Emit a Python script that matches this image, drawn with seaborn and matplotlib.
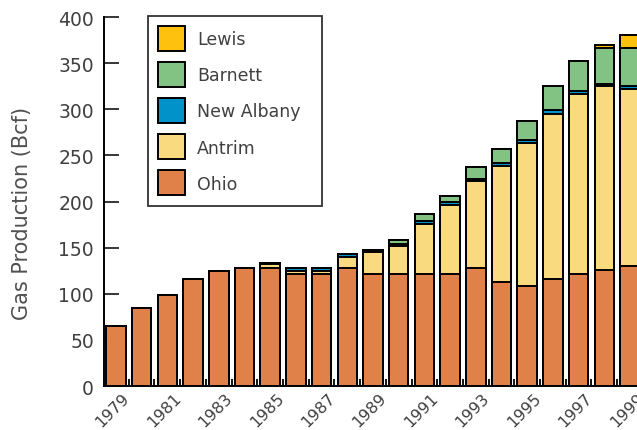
import numpy as np
import pandas as pd
import matplotlib
matplotlib.use("Agg")
import matplotlib.pyplot as plt
import matplotlib.transforms as mtransforms
import seaborn as sns
from matplotlib.patches import Patch

# Data (Bcf per year)
years = [str(y) for y in range(1979, 2000)]
ohio = [65, 85, 99, 116, 125, 128, 128, 121, 121, 128, 121, 121, 121, 121, 128, 113, 109, 116, 121, 126, 130]
antrim = [0, 0, 0, 0, 0, 0, 4, 4, 4, 12, 24, 31, 55, 75, 94, 126, 155, 179, 196, 199, 192]
new_albany = [0, 0, 0, 0, 0, 0, 1, 3, 3, 3, 3, 2, 3, 3, 3, 3, 3, 4, 3, 3, 3]
barnett = [0, 0, 0, 0, 0, 0, 0, 0, 0, 0, 0, 4, 8, 7, 13, 15, 20, 26, 32, 38, 42]
lewis = [0, 0, 0, 0, 0, 0, 0, 0, 0, 0, 0, 0, 0, 0, 0, 0, 0, 0, 0, 4, 14]

series_names = ["Ohio", "Antrim", "New Albany", "Barnett", "Lewis"]
series_colors = {"Ohio": "#e0814a", "Antrim": "#f9da7e", "New Albany": "#0092c8",
                 "Barnett": "#82c282", "Lewis": "#fec20e"}

df = pd.DataFrame({"Year": years, "Ohio": ohio, "Antrim": antrim, "New Albany": new_albany,
                   "Barnett": barnett, "Lewis": lewis})
# cumulative heights so that the bars can be layered from the top segment down
cum = df[series_names].cumsum(axis=1)

sns.set_style("ticks")
plt.rcParams["font.family"] = ["DejaVu Sans"]
text_color = "#404040"

fig = plt.figure(figsize=(6.37, 4.31), dpi=100)
ax = fig.add_axes([0.163, 0.102, 0.837, 0.856])

for name in series_names[::-1]:
    sns.barplot(x=df["Year"], y=cum[name], color=series_colors[name], saturation=1,
                width=0.76, edgecolor="black", linewidth=1.4, ax=ax)

ax.set_ylim(0, 400)
ax.set_xlim(-0.47, 20.27)
ax.set_yticks(range(0, 401, 50))
ax.set_xticks(range(0, 21, 2))
ax.set_xticks(np.arange(0.5, 20, 1), minor=True)
ax.set_xticklabels(years[::2], rotation=45, ha="right", rotation_mode="anchor")
ax.tick_params(axis="y", direction="in", length=11, width=1.3, pad=7,
               labelsize=13.5, labelcolor=text_color)
ax.tick_params(axis="x", which="major", length=0, pad=2.5, labelsize=11.5, labelcolor=text_color)
ax.tick_params(axis="x", which="minor", direction="in", length=5, width=1.3, color="black")
shift = mtransforms.ScaledTranslation(6 / 100, 0, fig.dpi_scale_trans)
for lbl in ax.get_xticklabels():
    lbl.set_transform(lbl.get_transform() + shift)
ax.set_xlabel("")
ax.set_ylabel("Gas Production (Bcf)", fontsize=15, color="#505050")
ax.yaxis.set_label_coords(-0.135, 0.47)

sns.despine(ax=ax)
for side in ["left", "bottom"]:
    ax.spines[side].set_linewidth(1.4)
    ax.spines[side].set_color("black")

handles = [Patch(facecolor=series_colors[n], edgecolor="black", linewidth=1.4, label=n)
           for n in series_names[::-1]]
leg = fig.legend(handles=handles, loc="upper left",
                 bbox_to_anchor=(148 / 637, 1 - 205 / 431, 174 / 637, 188 / 431),
                 mode="expand", borderaxespad=0, fontsize=12.5, handlelength=1.55,
                 handleheight=1.83, labelspacing=0.64, borderpad=0.6, handletextpad=0.69,
                 fancybox=False, frameon=True, labelcolor=text_color)
leg.get_frame().set_edgecolor("#333333")
leg.get_frame().set_linewidth(1.3)
leg.get_frame().set_alpha(1)

fig.savefig("out.png", dpi=100)
